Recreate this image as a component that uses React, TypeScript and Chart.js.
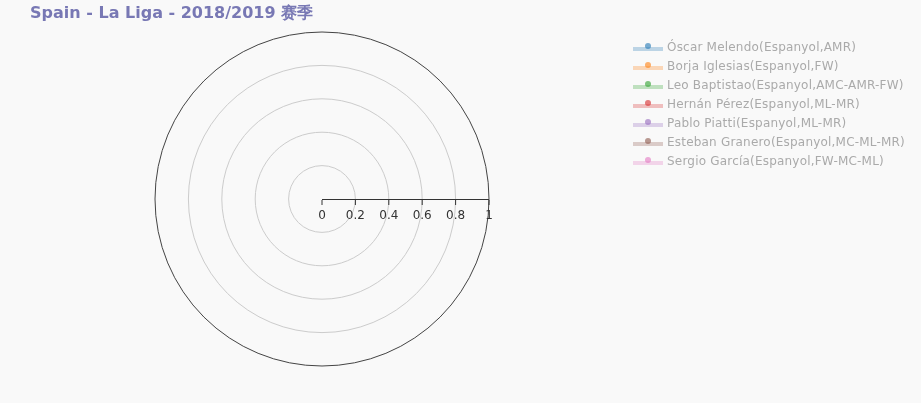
import React, { useEffect, useRef } from 'react';
import { Chart, registerables } from 'chart.js';

Chart.register(...registerables);

// Season title
const TITLE = 'Spain - La Liga - 2018/2019 赛季';

// Players shown in the legend (no indicator values recorded)
const players = [
  'Óscar Melendo(Espanyol,AMR)',
  'Borja Iglesias(Espanyol,FW)',
  'Leo Baptistao(Espanyol,AMC-AMR-FW)',
  'Hernán Pérez(Espanyol,ML-MR)',
  'Pablo Piatti(Espanyol,ML-MR)',
  'Esteban Granero(Espanyol,MC-ML-MR)',
  'Sergio García(Espanyol,FW-MC-ML)',
];
const playerColors = ['#1f77b4', '#ff7f0e', '#2ca02c', '#d62728', '#9467bd', '#8c564b', '#e377c2'];

// Radial axis range
const axisMin = 0;
const axisMax = 1;
const axisStep = 0.2;

const W = 921;
const H = 403;

function hexToRgba(hex: string, a: number): string {
  const n = parseInt(hex.slice(1), 16);
  return `rgba(${(n >> 16) & 255},${(n >> 8) & 255},${n & 255},${a})`;
}

function formatTick(v: number): string {
  return String(Math.round(v * 10) / 10);
}

const decorPlugin = {
  id: 'decor',
  beforeDraw(chart: any) {
    const { ctx } = chart;
    ctx.save();
    ctx.fillStyle = '#f9f9f9';
    ctx.fillRect(0, 0, chart.width, chart.height);
    ctx.restore();
  },
  afterDraw(chart: any) {
    const { ctx } = chart;
    const r = chart.scales.r;
    const cx = r.xCenter;
    const cy = r.yCenter;
    ctx.save();

    // radial axis running to the right
    ctx.strokeStyle = '#333';
    ctx.lineWidth = 1;
    ctx.beginPath();
    ctx.moveTo(cx, cy + 0.5);
    ctx.lineTo(cx + r.getDistanceFromCenterForValue(axisMax), cy + 0.5);
    ctx.stroke();

    ctx.font = '12px "DejaVu Sans"';
    ctx.fillStyle = '#333';
    ctx.textAlign = 'center';
    ctx.textBaseline = 'alphabetic';
    r.ticks.forEach((t: any) => {
      const x = cx + r.getDistanceFromCenterForValue(t.value);
      ctx.beginPath();
      ctx.moveTo(x, cy + 1);
      ctx.lineTo(x, cy + 6);
      ctx.stroke();
      ctx.fillText(formatTick(t.value), x, cy + 20);
    });

    // title
    ctx.font = 'bold 16px "DejaVu Sans"';
    ctx.fillStyle = '#7878b4';
    ctx.textAlign = 'left';
    ctx.fillText(TITLE, 30, 18);

    // legend
    ctx.font = '12px "DejaVu Sans"';
    (ctx as any).letterSpacing = '0.2px';
    chart.data.datasets.forEach((ds: any, i: number) => {
      const y = 46 + i * 19;
      const col = ds.borderColor as string;
      ctx.fillStyle = hexToRgba(col, 0.28);
      ctx.fillRect(633, y + 1, 30, 4);
      ctx.fillStyle = hexToRgba(col, 0.6);
      ctx.beginPath();
      ctx.arc(648, y, 3, 0, Math.PI * 2);
      ctx.fill();
      ctx.fillStyle = '#aaa';
      ctx.fillText(ds.label, 667, y + 5);
    });

    ctx.restore();
  },
};

export default function App() {
  const canvasRef = useRef<HTMLCanvasElement | null>(null);

  useEffect(() => {
    const canvas = canvasRef.current;
    if (!canvas) return;
    const chart = new Chart(canvas, {
      type: 'polarArea',
      data: {
        labels: [],
        datasets: players.map((name, i) => ({
          label: name,
          data: [],
          borderColor: playerColors[i],
          backgroundColor: hexToRgba(playerColors[i], 0.3),
        })),
      },
      options: {
        responsive: false,
        animation: false,
        devicePixelRatio: 1,
        layout: { padding: { left: 155, right: 432, top: 32, bottom: 37 } },
        plugins: {
          legend: { display: false },
          title: { display: false },
          tooltip: { enabled: false },
        },
        scales: {
          r: {
            min: axisMin,
            max: axisMax,
            ticks: { display: false, stepSize: axisStep },
            angleLines: { display: false },
            pointLabels: { display: false },
            grid: {
              circular: true,
              lineWidth: 1,
              color: (c: any) => (c.index === 5 ? '#444' : '#ccc'),
            },
          },
        },
      },
      plugins: [decorPlugin],
    } as any);
    return () => chart.destroy();
  }, []);

  return (
    <div style={{ position: 'fixed', left: 0, top: 0, width: W, height: H, background: '#f9f9f9' }}>
      <canvas ref={canvasRef} width={W} height={H} style={{ display: 'block' }} />
    </div>
  );
}
